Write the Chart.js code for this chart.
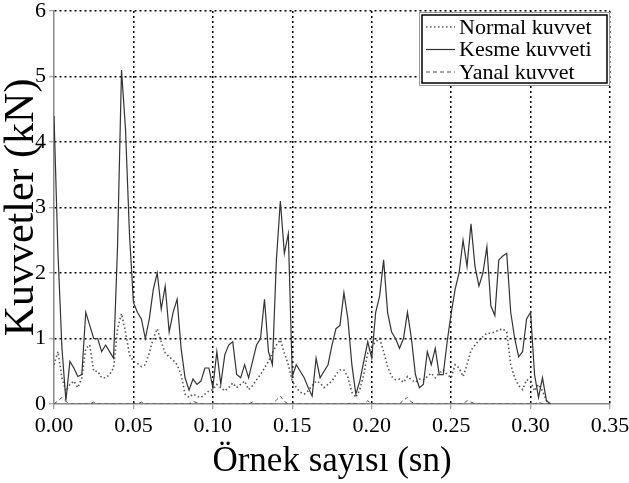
<!DOCTYPE html>
<html>
<head>
<meta charset="utf-8">
<script src="https://cdn.jsdelivr.net/npm/chart.js@4/dist/chart.umd.min.js"></script>
<style>
  html, body { margin: 0; padding: 0; background: #fff; }
  #wadah { width: 629px; height: 483px; }
</style>
</head>
<body>
<div id="wadah"><canvas id="grafik" width="629" height="483"></canvas></div>
<script>
// interval sampel (sn)
const adim = 0.0025;

// Normal kuvvet (kN)
const normalKuvvet = [
  0.6, 0.8, 0.4, 0.2, 0.3, 0.35, 0.25, 0.4, 0.85, 0.9,
  0.5, 0.5, 0.4, 0.4, 0.45, 0.55, 1.15, 1.38, 1.1, 0.75,
  0.65, 0.62, 0.57, 0.6, 0.78, 1.0, 1.15, 0.95, 0.78, 0.72,
  0.67, 0.6, 0.45, 0.15, 0.1, 0.15, 0.12, 0.1, 0.15, 0.2,
  0.22, 0.3, 0.25, 0.2, 0.25, 0.32, 0.25, 0.3, 0.35, 0.22,
  0.28, 0.37, 0.45, 0.55, 0.65, 0.78, 0.9, 0.98, 0.78, 0.6,
  0.35, 0.25, 0.18, 0.15, 0.2, 0.28, 0.35, 0.32, 0.25, 0.3,
  0.35, 0.45, 0.52, 0.52, 0.41, 0.18, 0.1, 0.22, 0.45, 0.78,
  0.88, 0.95, 1.0, 0.8, 0.57, 0.42, 0.37, 0.38, 0.33, 0.42,
  0.37, 0.33, 0.38, 0.37, 0.42, 0.47, 0.4, 0.47, 0.52, 0.45,
  0.4, 0.6, 0.55, 0.42, 0.6, 0.82, 0.9, 0.97, 1.03, 1.08,
  1.08, 1.1, 1.13, 1.15, 1.1, 0.6, 0.4, 0.28, 0.22, 0.37,
  0.35, 0.2, 0.3, 0.2, 0.05, 0
];

// Kesme kuvveti (kN)
const kesmeKuvveti = [
  4.4, 2.3, 0.85, 0.05, 0.65, 0.55, 0.42, 0.45, 1.4, 1.2,
  1.0, 1.0, 0.8, 0.9, 0.8, 0.7, 2.4, 5.1, 4.2, 2.6,
  1.55, 1.4, 1.3, 1.0, 1.3, 1.75, 2.0, 1.45, 1.8, 1.1,
  1.4, 1.6, 0.85, 0.4, 0.21, 0.38, 0.3, 0.35, 0.55, 0.55,
  0.25, 0.8, 0.3, 0.75, 0.9, 0.95, 0.45, 0.4, 0.6, 0.4,
  0.65, 0.9, 1.0, 1.6, 0.8, 0.6, 2.2, 3.1, 2.3, 2.6,
  0.42, 0.6, 0.5, 0.4, 0.25, 0.12, 0.7, 0.4, 0.5, 0.6,
  0.9, 1.15, 1.2, 1.7, 1.3, 0.6, 0.15, 0.35, 0.65, 0.95,
  0.7, 1.4, 1.65, 2.2, 1.4, 1.1, 1.0, 0.85, 1.0, 1.4,
  1.0, 0.45, 0.25, 0.3, 0.8, 0.6, 0.85, 0.45, 0.45, 0.95,
  1.38, 1.75, 2.0, 2.5, 2.1, 2.75, 2.1, 1.8, 2.0, 2.4,
  1.5, 1.35, 2.2, 2.26, 2.3, 1.4, 1.0, 0.72, 0.8, 1.3,
  1.4, 0.45, 0.1, 0.4, 0.05, 0
];

// Yanal kuvvet (kN)
const yanalKuvvet = [
  0, 0.05, 0.1, 0.04, 0, 0, 0, 0, 0, 0,
  0.03, 0, 0, 0, 0, 0, 0, 0, 0, 0,
  0, 0, 0.03, 0, 0, 0, 0, 0, 0, 0,
  0, 0, 0, 0, 0, 0.04, 0.02, 0, 0, 0,
  0, 0, 0, 0, 0, 0, 0, 0, 0, 0,
  0.03, 0, 0, 0, 0, 0, 0.06, 0.12, 0.04, 0,
  0, 0, 0, 0, 0, 0, 0, 0, 0, 0,
  0, 0, 0, 0, 0, 0.02, 0, 0, 0, 0.05,
  0, 0, 0, 0, 0, 0, 0, 0, 0.06, 0.1,
  0.03, 0, 0, 0, 0, 0, 0, 0, 0, 0,
  0, 0, 0, 0, 0.05, 0.03, 0, 0, 0, 0,
  0, 0, 0, 0, 0, 0, 0, 0, 0, 0,
  0, 0, 0.03, 0, 0, 0
];

const labelSeri = ['Normal kuvvet', 'Kesme kuvveti', 'Yanal kuvvet'];

// ubah ke titik {x, y}
function jadiTitik(arr) {
  return arr.map((v, i) => ({ x: i * adim, y: v }));
}

const fontSerif = '"Liberation Serif", "Times New Roman", serif';

// kotak legenda di pojok kanan atas
const kotakLegenda = {
  id: 'kotakLegenda',
  afterDraw(chart) {
    const ctx = chart.ctx;
    const area = chart.chartArea;
    const w = 191, h = 74;
    const x0 = area.right - w, y0 = area.top + 1;
    ctx.save();
    ctx.fillStyle = '#fff';
    ctx.fillRect(x0, y0, w, h);
    ctx.strokeStyle = '#999';
    ctx.lineWidth = 1;
    ctx.strokeRect(x0 + 0.5, y0 + 0.5, w - 1, h - 1);
    ctx.strokeStyle = '#000';
    ctx.lineWidth = 1.5;
    ctx.strokeRect(x0 + 3, y0 + 3, w - 6, h - 6);

    ctx.font = '22px ' + fontSerif;
    ctx.textBaseline = 'middle';
    chart.data.datasets.forEach((ds, i) => {
      const yy = y0 + 15 + i * 22.5;
      ctx.strokeStyle = ds.borderColor;
      ctx.lineWidth = ds.borderWidth;
      ctx.setLineDash(ds.borderDash || []);
      ctx.beginPath();
      ctx.moveTo(x0 + 7, yy);
      ctx.lineTo(x0 + 36, yy);
      ctx.stroke();
      ctx.setLineDash([]);
      ctx.fillStyle = '#000';
      ctx.fillText(ds.label, x0 + 40, yy + 1);
    });
    ctx.restore();
  }
};

const config = {
  type: 'line',
  data: {
    datasets: [
      {
        label: labelSeri[0],
        data: jadiTitik(normalKuvvet),
        borderColor: '#555',
        borderWidth: 1.6,
        borderDash: [1.5, 2.5],
        order: 2
      },
      {
        label: labelSeri[1],
        data: jadiTitik(kesmeKuvveti),
        borderColor: '#333',
        borderWidth: 1.2,
        order: 1
      },
      {
        label: labelSeri[2],
        data: jadiTitik(yanalKuvvet),
        borderColor: '#555',
        borderWidth: 1,
        borderDash: [4, 3],
        order: 3
      }
    ]
  },
  options: {
    responsive: false,
    animation: false,
    layout: { padding: { top: 11, right: 19, left: 0, bottom: 0 } },
    elements: { point: { radius: 0 }, line: { tension: 0 } },
    plugins: { legend: { display: false }, tooltip: { enabled: false } },
    scales: {
      x: {
        type: 'linear',
        min: 0,
        max: 0.35,
        afterFit: s => { s.height = 79; s.paddingLeft = 0; s.paddingRight = 0; },
        ticks: {
          stepSize: 0.05,
          color: '#000',
          padding: 4,
          maxRotation: 0,
          font: { family: fontSerif, size: 22 },
          callback: v => v.toFixed(2)
        },
        grid: {
          color: c => (c.tick && c.tick.value === 0) ? 'rgba(0,0,0,0)' : '#000',
          lineWidth: 1.5,
          tickLength: 5,
          tickColor: '#888',
          tickWidth: 1,
          tickBorderDash: []
        },
        border: { color: '#888', width: 1.5, dash: [2, 3] },
        title: {
          display: true,
          text: 'Örnek sayısı (sn)',
          color: '#000',
          font: { family: fontSerif, size: 35, lineHeight: 1 },
          padding: { top: 0, bottom: 4 }
        }
      },
      y: {
        min: 0,
        max: 6,
        afterFit: s => { s.width = 54; s.paddingTop = 0; s.paddingBottom = 0; },
        ticks: {
          stepSize: 1,
          color: '#000',
          padding: 3,
          font: { family: fontSerif, size: 22, lineHeight: 1 }
        },
        grid: {
          color: c => (c.tick && c.tick.value === 0) ? 'rgba(0,0,0,0)' : '#000',
          lineWidth: 1.5,
          tickLength: 5,
          tickColor: '#888',
          tickWidth: 1,
          tickBorderDash: []
        },
        border: { color: '#888', width: 1.5, dash: [2, 3] },
        title: {
          display: true,
          text: 'Kuvvetler (kN)',
          color: '#000',
          font: { family: fontSerif, size: 42, lineHeight: 1 },
          padding: { top: 1, bottom: 0 }
        }
      }
    }
  },
  plugins: [kotakLegenda]
};

const grafik = new Chart(document.getElementById('grafik'), config);
</script>
</body>
</html>
